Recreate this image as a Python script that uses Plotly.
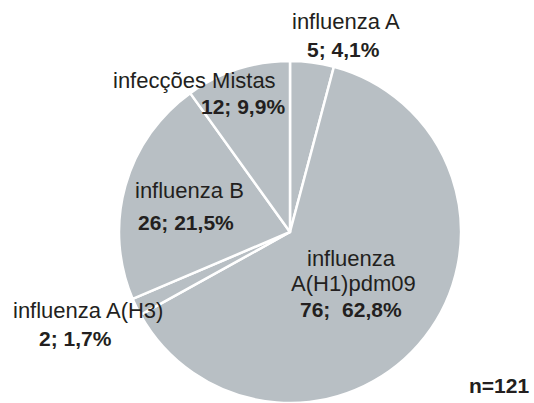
import plotly.graph_objects as go

categories = ["influenza A", "influenza A(H1)pdm09", "influenza A(H3)", "influenza B", "infecções Mistas"]
counts = [5, 76, 2, 26, 12]
percents = ["4,1%", "62,8%", "1,7%", "21,5%", "9,9%"]
total_label = "n=121"

FONT = "Liberation Sans, Arial, sans-serif"
TXT = "#231f20"
GRAY = "#b8bfc4"

fig = go.Figure(go.Pie(
    labels=categories, values=counts, sort=False, direction="clockwise", rotation=0,
    textinfo="none", hoverinfo="label+value",
    marker=dict(colors=[GRAY] * len(categories), line=dict(color="white", width=2.5)),
    domain=dict(x=[118.5 / 534, 461.5 / 534], y=[0, 342 / 403]),
    showlegend=False,
))

def ann(x, y, text, bold=False, anchor="center"):
    fig.add_annotation(x=x / 534, y=1 - y / 403, xref="paper", yref="paper",
                       text=f"<b>{text}</b>" if bold else text, showarrow=False,
                       xanchor=anchor, yanchor="middle",
                       font=dict(family=FONT, size=21 if bold else 22, color=TXT))

ann(346, 22, categories[0])
ann(343, 49, f"{counts[0]}; {percents[0]}", True)
ann(194, 80, categories[4])
ann(243, 107, f"{counts[4]}; {percents[4]}", True)
ann(189, 191, categories[3])
ann(186, 222, f"{counts[3]}; {percents[3]}", True)
ann(352, 258, "influenza")
ann(353, 283, "A(H1)pdm09")
ann(351, 309, f"{counts[1]};  {percents[1]}", True)
ann(88, 310, categories[2])
ann(75, 338, f"{counts[2]}; {percents[2]}", True)
ann(531, 385, total_label, True, anchor="right")

fig.update_layout(width=534, height=403, autosize=False, margin=dict(l=0, r=0, t=0, b=0),
                  paper_bgcolor="white", plot_bgcolor="white")
fig.write_html("out.html", config={"displayModeBar": False},
               post_script="document.body.style.margin='0';document.body.style.overflow='hidden';")
